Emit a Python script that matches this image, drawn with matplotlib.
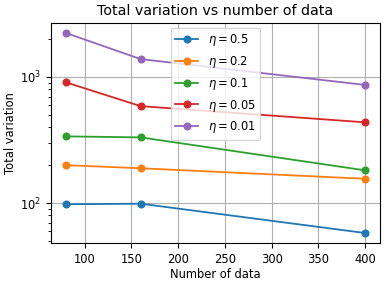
import matplotlib
matplotlib.use("Agg")
import matplotlib.pyplot as plt

n_data = [80, 160, 400]
eta_labels = [r"$\eta=0.5$", r"$\eta=0.2$", r"$\eta=0.1$", r"$\eta=0.05$", r"$\eta=0.01$"]
tv_eta_05 = [98, 99, 58]
tv_eta_02 = [200, 189, 156]
tv_eta_01 = [338, 332, 182]
tv_eta_005 = [906, 587, 437]
tv_eta_001 = [2230, 1385, 865]
series = [tv_eta_05, tv_eta_02, tv_eta_01, tv_eta_005, tv_eta_001]

fs = 8.3
fig = plt.figure(figsize=(3.88, 2.83), dpi=100)
ax = fig.add_axes([51/388, 1-243/283, (380-51)/388, (243-23)/283])
for vals, lab in zip(series, eta_labels):
    ax.plot(n_data, vals, marker="o", markersize=4.8, linewidth=1.3, label=lab)
ax.set_yscale("log")
ax.set_title("Total variation vs number of data", fontsize=10.3)
ax.set_xlabel("Number of data", fontsize=fs, labelpad=2)
ax.set_ylabel("Total variation", fontsize=fs, labelpad=2)
ax.tick_params(labelsize=fs)
ax.grid(True)
ax.legend(loc="upper center", fontsize=fs, borderaxespad=0.4)
fig.savefig("out.png", dpi=100)
